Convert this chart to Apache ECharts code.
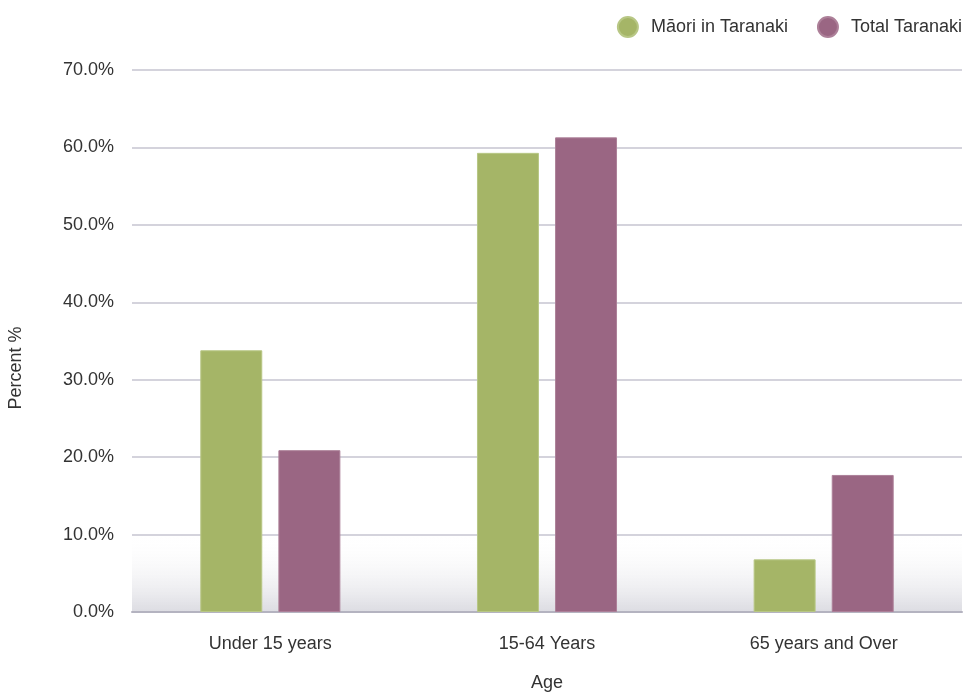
<!DOCTYPE html>
<html>
<head>
<meta charset="utf-8">
<script src="https://cdn.jsdelivr.net/npm/echarts@6/dist/echarts.min.js"></script>
<style>html,body{margin:0;padding:0;background:#fff}#c{width:968px;height:695px}</style>
</head>
<body>
<div id="c"></div>
<script>
const categories = ['Under 15 years', '15-64 Years', '65 years and Over'];
const maoriValues = [33.8, 59.3, 6.8];
const totalValues = [20.9, 61.3, 17.7];
const seriesNames = ['Māori in Taranaki', 'Total Taranaki'];
const yTicks = [0, 10, 20, 30, 40, 50, 60, 70];
const shadeBand = [0, 10];

const chart = echarts.init(document.getElementById('c'));
const font = 'Liberation Sans, Arial, Helvetica, sans-serif';
chart.setOption({
  animation: false,
  textStyle: { fontFamily: font },
  legend: {
    data: seriesNames,
    top: 11, right: 1,
    icon: 'circle', itemWidth: 20, itemHeight: 20, itemGap: 29,
    textStyle: { fontSize: 18, color: '#333', fontFamily: font, padding: [0, 0, 0, 8] }
  },
  grid: { left: 132, right: 6, top: 70, bottom: 83, outerBoundsMode: 'none', containLabel: false },
  xAxis: {
    type: 'category', data: categories,
    name: 'Age', nameLocation: 'middle', nameGap: 62,
    nameTextStyle: { fontSize: 18, color: '#333' },
    axisLine: { lineStyle: { color: '#b4b3c0', width: 2 } },
    axisTick: { show: false },
    axisLabel: { fontSize: 18, color: '#333', margin: 23 }
  },
  yAxis: {
    type: 'value', min: yTicks[0], max: yTicks[yTicks.length - 1], interval: 10,
    name: 'Percent %', nameLocation: 'middle', nameGap: 107, nameRotate: 90,
    nameTextStyle: { fontSize: 18, color: '#333', padding: [0, 54, 0, 0] },
    axisLine: { show: false }, axisTick: { show: false },
    splitLine: { lineStyle: { color: '#c6c5d1', width: 1.5 } },
    axisLabel: { fontSize: 18, color: '#333', margin: 18, formatter: v => v.toFixed(1) + '%' }
  },
  series: [
    {
      name: seriesNames[0], type: 'bar', data: maoriValues,
      barWidth: '22.4%', barGap: '26%',
      itemStyle: { color: '#a5b567', borderColor: '#b8c785', borderWidth: 1 },
      markArea: {
        silent: true, z: 0,
        itemStyle: {
          color: new echarts.graphic.LinearGradient(0, 0, 0, 1, [
            { offset: 0, color: 'rgba(255,255,255,0)' },
            { offset: 1, color: '#dcdce2' }
          ])
        },
        data: [[{ yAxis: shadeBand[0] }, { yAxis: shadeBand[1] }]]
      }
    },
    {
      name: seriesNames[1], type: 'bar', data: totalValues,
      barWidth: '22.4%',
      itemStyle: { color: '#9a6683', borderColor: '#ad8099', borderWidth: 1 }
    }
  ]
});
</script>
</body>
</html>
